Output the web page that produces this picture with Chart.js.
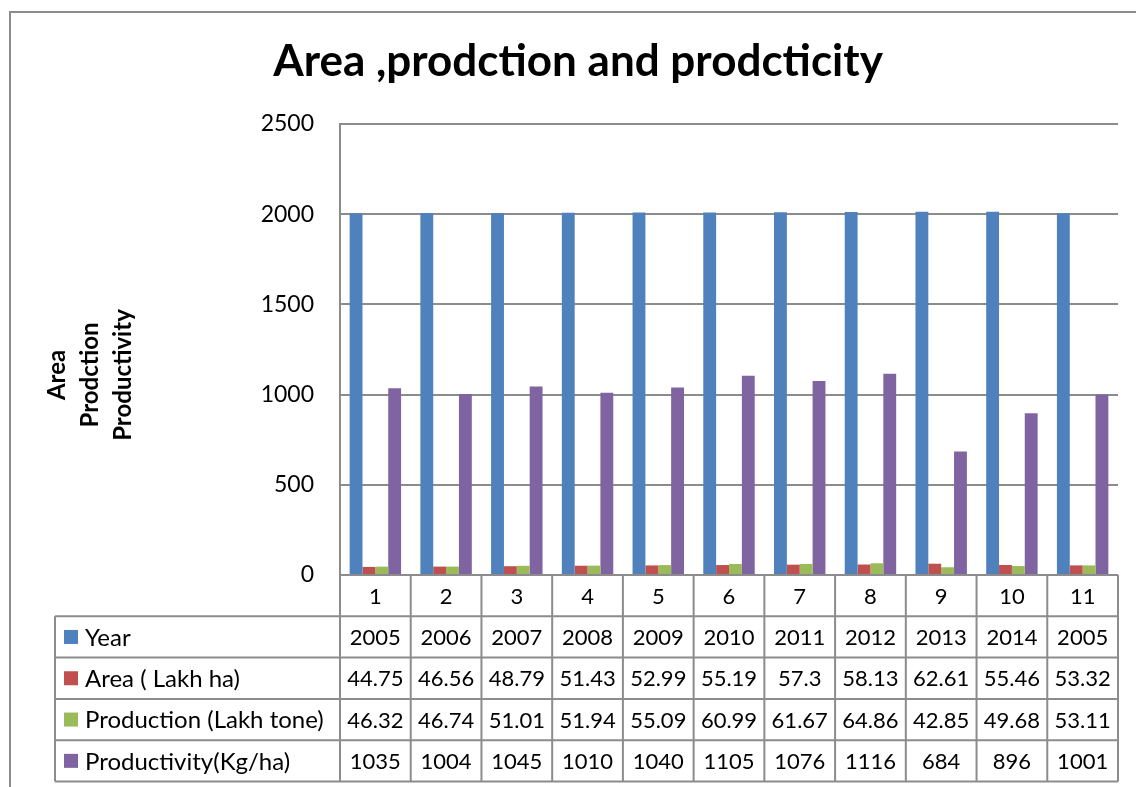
<!DOCTYPE html>
<html>
<head>
<meta charset="utf-8">
<title>Area, production and productivity</title>
<script src="https://cdn.jsdelivr.net/npm/chart.js@4"></script>
<style>
  body { margin: 0; background: #fff; }
  #wrap { width: 1136px; height: 787px; }
</style>
</head>
<body>
<div id="wrap"><canvas id="chart" width="1136" height="787"></canvas></div>
<script>
const categories = ['1', '2', '3', '4', '5', '6', '7', '8', '9', '10', '11'];
const years = [2005, 2006, 2007, 2008, 2009, 2010, 2011, 2012, 2013, 2014, 2005];
const area = [44.75, 46.56, 48.79, 51.43, 52.99, 55.19, 57.3, 58.13, 62.61, 55.46, 53.32];
const production = [46.32, 46.74, 51.01, 51.94, 55.09, 60.99, 61.67, 64.86, 42.85, 49.68, 53.11];
const productivity = [1035, 1004, 1045, 1010, 1040, 1105, 1076, 1116, 684, 896, 1001];
const seriesNames = ['Year', 'Area ( Lakh ha)', 'Production (Lakh tone)', 'Productivity(Kg/ha)'];
const yTicks = [0, 500, 1000, 1500, 2000, 2500];

const colors = ['#4F81BD', '#C0504D', '#9BBB59', '#8064A2'];
const lineColor = '#8c8c8c';
const FONT = 'Lato, "Open Sans", sans-serif';

// frame, title, axis title and the data table below the plot
const extras = {
    id: 'extras',
    afterDraw(chart) {
        const ctx = chart.ctx;
        const area_ = chart.chartArea;
        const x = chart.scales.x;
        const rowH = 41.3;
        const tableLeft = 55;
        const colW = (area_.right - area_.left) / categories.length;

        ctx.save();
        ctx.strokeStyle = lineColor;
        ctx.lineWidth = 2;

        // outer chart frame
        ctx.beginPath();
        ctx.moveTo(10, chart.height);
        ctx.lineTo(10, 12);
        ctx.lineTo(chart.width, 12);
        ctx.stroke();

        // title
        ctx.fillStyle = '#000';
        ctx.font = 'bold 44px ' + FONT;
        ctx.textAlign = 'center';
        ctx.textBaseline = 'middle';
        ctx.fillText('Area ,prodction and prodcticity', 578, 62);

        // y axis title, three lines rotated
        ctx.save();
        ctx.translate(57, 375);
        ctx.rotate(-Math.PI / 2);
        ctx.font = 'bold 24px ' + FONT;
        ['Area', 'Prodction', 'Productivity'].forEach((t, i) => {
            ctx.fillText(t, 0, i * 33);
        });
        ctx.restore();

        // table grid
        const top = area_.bottom;
        const rows = [years, area, production, productivity];
        ctx.beginPath();
        for (let r = 0; r <= rows.length + 1; r++) {
            const y = top + r * rowH;
            ctx.moveTo(r === 0 ? area_.left : tableLeft, y);
            ctx.lineTo(area_.right, y);
        }
        ctx.moveTo(tableLeft, top + rowH);
        ctx.lineTo(tableLeft, top + rowH * (rows.length + 1));
        for (let c = 0; c <= categories.length; c++) {
            const cx = area_.left + c * colW;
            ctx.moveTo(cx, top);
            ctx.lineTo(cx, top + rowH * (rows.length + 1));
        }
        ctx.stroke();

        // header numbers and values
        ctx.fillStyle = '#000';
        ctx.font = '22px ' + FONT;
        ctx.textAlign = 'center';
        categories.forEach((c, i) => {
            const cx = x.getPixelForValue(i);
            ctx.fillText(c, cx, top + rowH / 2 + 1);
            rows.forEach((row, r) => {
                ctx.fillText(String(row[i]), cx, top + rowH * (r + 1.5) + 1);
            });
        });

        // series keys
        ctx.textAlign = 'left';
        ctx.font = '24px ' + FONT;
        seriesNames.forEach((name, r) => {
            const cy = top + rowH * (r + 1.5);
            ctx.fillStyle = colors[r];
            ctx.fillRect(64, cy - 7, 14, 14);
            ctx.fillStyle = '#000';
            ctx.fillText(name, 85, cy + 1);
        });
        ctx.restore();
    }
};

new Chart(document.getElementById('chart').getContext('2d'), {
    type: 'bar',
    data: {
        labels: categories,
        datasets: [years, area, production, productivity].map((d, i) => ({
            label: seriesNames[i],
            data: d,
            backgroundColor: colors[i],
            borderWidth: 0,
            categoryPercentage: 4 / 5.5,
            barPercentage: 1,
        }))
    },
    options: {
        responsive: false,
        animation: false,
        layout: {
            padding: { left: 0, right: 18, top: 124, bottom: 212 }
        },
        plugins: {
            legend: { display: false },
            tooltip: { enabled: false },
        },
        scales: {
            x: {
                afterFit: (s) => { s.height = 0; },
                grid: { display: false },
                border: { display: false },
                ticks: { display: false },
            },
            y: {
                min: 0,
                max: 2500,
                afterBuildTicks: (s) => { s.ticks = yTicks.map(v => ({ value: v })); },
                afterFit: (s) => { s.width = 340; },
                grid: { color: lineColor, lineWidth: 2, drawTicks: false },
                border: { display: true, color: lineColor, width: 2 },
                ticks: {
                    padding: 26,
                    color: '#000',
                    font: { family: FONT, size: 23 },
                    callback: (v) => String(v),
                },
            }
        }
    },
    plugins: [extras]
});
</script>
</body>
</html>
